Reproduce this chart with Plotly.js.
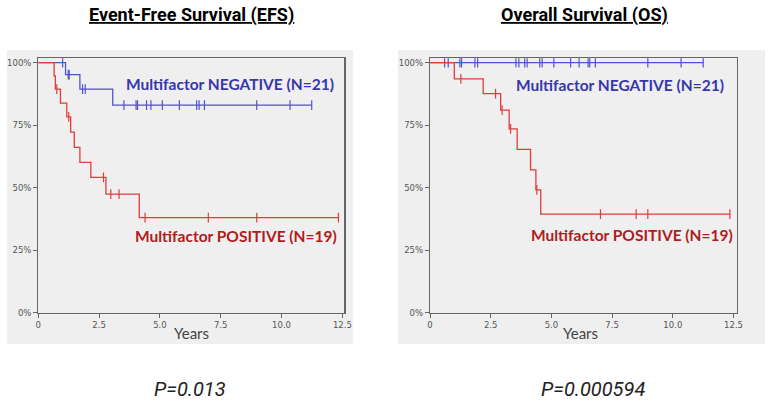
<!DOCTYPE html>
<html>
<head>
<meta charset="utf-8">
<script src="https://cdn.plot.ly/plotly-3.0.1.min.js"></script>
<style>html,body{margin:0;padding:0;background:#fff;}#chart{width:774px;height:407px;}</style>
</head>
<body>
<div id="chart"></div>
<script>
// ---- Data ----
// Event-Free Survival, Multifactor NEGATIVE (N=21)
var efsNegT = [0, 1.12, 1.71, 3.06, 11.24];
var efsNegS = [1.0, 0.952, 0.894, 0.830, 0.830];
var efsNegCensT = [1.00, 1.23, 1.27, 1.82, 1.93, 3.52, 4.02, 4.08, 4.45, 4.63, 5.10, 5.80, 6.51, 6.61, 6.83, 8.98, 10.35, 11.24];
var efsNegCensS = [1.0, 0.952, 0.952, 0.894, 0.894, 0.830, 0.830, 0.830, 0.830, 0.830, 0.830, 0.830, 0.830, 0.830, 0.830, 0.830, 0.830, 0.830];
// Event-Free Survival, Multifactor POSITIVE (N=19)
var efsPosT = [0, 0.65, 0.70, 0.91, 1.17, 1.33, 1.48, 1.71, 2.16, 2.78, 4.15, 12.34];
var efsPosS = [1.0, 0.947, 0.894, 0.838, 0.783, 0.722, 0.661, 0.601, 0.541, 0.474, 0.380, 0.380];
var efsPosCensT = [0.76, 1.25, 2.68, 2.98, 3.32, 4.39, 6.99, 8.98, 12.34];
var efsPosCensS = [0.894, 0.783, 0.541, 0.474, 0.474, 0.380, 0.380, 0.380, 0.380];
// Overall Survival, Multifactor NEGATIVE (N=21)
var osNegT = [0, 11.25];
var osNegS = [1.0, 1.0];
var osNegCensT = [0.60, 0.75, 1.23, 1.30, 1.85, 1.96, 3.54, 3.66, 3.90, 4.00, 4.52, 4.62, 5.10, 5.79, 6.14, 6.51, 6.58, 6.81, 8.97, 10.34, 11.25];
var osNegCensS = [1, 1, 1, 1, 1, 1, 1, 1, 1, 1, 1, 1, 1, 1, 1, 1, 1, 1, 1, 1, 1];
// Overall Survival, Multifactor POSITIVE (N=19)
var osPosT = [0, 1.00, 2.19, 2.91, 3.26, 3.59, 4.14, 4.36, 4.56, 12.35];
var osPosS = [1.0, 0.935, 0.876, 0.810, 0.735, 0.653, 0.571, 0.491, 0.394, 0.394];
var osPosCensT = [1.27, 2.70, 2.97, 3.32, 4.40, 7.02, 8.49, 8.97, 12.35];
var osPosCensS = [0.935, 0.876, 0.810, 0.735, 0.491, 0.394, 0.394, 0.394, 0.394];

var yTickVals = [0, 0.25, 0.5, 0.75, 1.0];
var yTickText = ['0%', '25%', '50%', '75%', '100%'];
var xTickVals = [0, 2.5, 5, 7.5, 10, 12.5];
var xTickText = ['0', '2.5', '5.0', '7.5', '10.0', '12.5'];

var panelTitles = ['Event-Free Survival (EFS)', 'Overall Survival (OS)'];
var groupLabels = ['Multifactor NEGATIVE (N=21)', 'Multifactor POSITIVE (N=19)'];
var pValues = ['P=0.013', 'P=0.000594'];
var xAxisLabel = 'Years';

// ---- Styling ----
var W = 774, H = 407;
function px(x) { return x / W; }
function py(y) { return 1 - y / H; }
var BLUE = '#5252cc', RED = '#e03c3c';
var BLUE_TXT = '#3636ad', RED_TXT = '#b01c1c';

function stepTrace(t, s, color, xa, ya) {
  return {x: t, y: s, mode: 'lines', line: {shape: 'hv', color: color, width: 1.3},
          xaxis: xa, yaxis: ya, hoverinfo: 'skip', showlegend: false};
}
function censTrace(t, s, color, xa, ya) {
  return {x: t, y: s, mode: 'markers', marker: {symbol: 'line-ns-open', size: 7, color: color, line: {color: color, width: 1.2}},
          xaxis: xa, yaxis: ya, hoverinfo: 'skip', showlegend: false};
}

var data = [
  stepTrace(efsNegT, efsNegS, BLUE, 'x', 'y'),
  censTrace(efsNegCensT, efsNegCensS, BLUE, 'x', 'y'),
  stepTrace(efsPosT, efsPosS, RED, 'x', 'y'),
  censTrace(efsPosCensT, efsPosCensS, RED, 'x', 'y'),
  stepTrace(osNegT, osNegS, BLUE, 'x2', 'y2'),
  censTrace(osNegCensT, osNegCensS, BLUE, 'x2', 'y2'),
  stepTrace(osPosT, osPosS, RED, 'x2', 'y2'),
  censTrace(osPosCensT, osPosCensS, RED, 'x2', 'y2')
];

var tickFont = {family: 'DejaVu Sans, Verdana, sans-serif', size: 8.5, color: '#555'};
function xAxis(domain, maxX) {
  return {domain: domain, range: [0, maxX], tickvals: xTickVals, ticktext: xTickText,
          showgrid: false, zeroline: false, showline: true, linecolor: '#666', linewidth: 1.2, mirror: true,
          ticks: 'outside', ticklen: 4, tickcolor: '#666', tickfont: tickFont, fixedrange: true};
}
function yAxis(domain, anchor) {
  return {domain: domain, range: [0, 1.0176], tickvals: yTickVals, ticktext: yTickText, anchor: anchor,
          showgrid: false, zeroline: false, showline: true, linecolor: '#666', linewidth: 1.2, mirror: true,
          ticks: 'outside', ticklen: 4, tickcolor: '#666', tickfont: tickFont, fixedrange: true};
}

var yDom = [py(312.7), py(58.3)];
var layout = {
  width: W, height: H,
  margin: {l: 0, r: 0, t: 0, b: 0},
  paper_bgcolor: '#ffffff', plot_bgcolor: '#ffffff',
  showlegend: false,
  xaxis: xAxis([px(38.3), px(344.3)], 12.58),
  yaxis: yAxis(yDom, 'x'),
  xaxis2: Object.assign(xAxis([px(430), px(736.7)], 12.63), {anchor: 'y2'}),
  yaxis2: yAxis(yDom, 'x2'),
  shapes: [
    {type: 'rect', xref: 'paper', yref: 'paper', x0: px(7), x1: px(353), y0: py(344), y1: py(50),
     fillcolor: '#efefef', line: {width: 0}, layer: 'below'},
    {type: 'rect', xref: 'paper', yref: 'paper', x0: px(398), x1: px(765), y0: py(344), y1: py(50),
     fillcolor: '#efefef', line: {width: 0}, layer: 'below'}
  ],
  annotations: []
};

var titleFont = {family: 'Roboto, sans-serif', size: 18, color: '#000'};
var labelFont = {family: 'Lato, Open Sans, sans-serif', size: 15.5, weight: 700};
var pFont = {family: 'Roboto, Lato, sans-serif', size: 20, color: '#222'};
var centers = [191, 584];
var negPos = [[230, 84], [620, 85]];
var posPos = [[236, 236], [632, 235]];
var yearsX = [191, 580];
var pX = [190, 593];
for (var i = 0; i < 2; i++) {
  layout.annotations.push({text: '<b><u>' + panelTitles[i] + '</u></b>', xref: 'paper', yref: 'paper',
    x: px(centers[i]), y: py(15), xanchor: 'center', yanchor: 'middle', showarrow: false, font: titleFont});
  layout.annotations.push({text: groupLabels[0], xref: 'paper', yref: 'paper',
    x: px(negPos[i][0]), y: py(negPos[i][1]), xanchor: 'center', yanchor: 'middle', showarrow: false,
    font: Object.assign({}, labelFont, {color: BLUE_TXT})});
  layout.annotations.push({text: groupLabels[1], xref: 'paper', yref: 'paper',
    x: px(posPos[i][0]), y: py(posPos[i][1]), xanchor: 'center', yanchor: 'middle', showarrow: false,
    font: Object.assign({}, labelFont, {color: RED_TXT})});
  layout.annotations.push({text: xAxisLabel, xref: 'paper', yref: 'paper',
    x: px(yearsX[i]), y: py(333), xanchor: 'center', yanchor: 'middle', showarrow: false,
    font: {family: 'Lato, Open Sans, sans-serif', size: 15, color: '#444'}});
  layout.annotations.push({text: '<i>' + pValues[i] + '</i>', xref: 'paper', yref: 'paper',
    x: px(pX[i]), y: py(389), xanchor: 'center', yanchor: 'middle', showarrow: false, font: pFont});
}

Plotly.newPlot('chart', data, layout, {staticPlot: true, displayModeBar: false});
</script>
</body>
</html>
